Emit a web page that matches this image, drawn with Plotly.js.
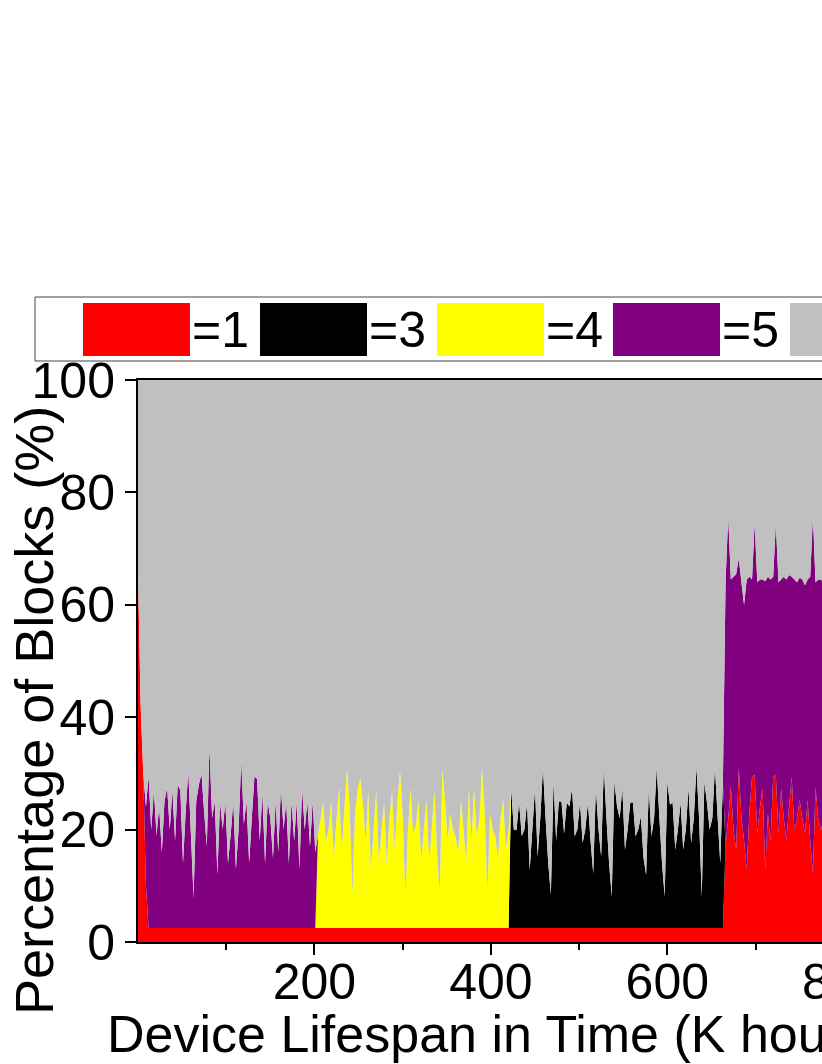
<!DOCTYPE html>
<html>
<head>
<meta charset="utf-8">
<script src="https://cdn.plot.ly/plotly-3.0.1.min.js"></script>
<style>
  html, body { margin: 0; padding: 0; overflow: hidden; background: #fff; }
  #chart { width: 1000px; height: 1064px; }
</style>
</head>
<body>
<div id="chart"></div>
<script>
// Share of blocks per level over device lifespan, stacked up to 100%
// values read every 3 K hours

var step = 3;
var xEnd = 777;

var levelNames = ["=1", "=3", "=4", "=5", "Other"];
var levelColors = ["#ff0000", "#000000", "#ffff00", "#800080", "#c0c0c0"];

// =1 : starts high, drops to a thin band, then jumps at ~666
var redHead = [66, 42, 30, 10];          // x 0..9
var redBase = 2.5;                       // x 12..663
var redLate = [17, 22, 27.6, 20, 16.4, 31, 22.3, 18, 12.8, 22.9,
               29.4, 29.7, 19.3, 24, 27.3, 12.8, 22.9, 18, 29.4, 29.7,
               19.3, 27.3, 22, 18.1, 24, 29.4, 19.9, 22, 25.3, 22,
               19.3, 25.3, 18, 12.2, 27.6, 22, 19.9, 22];   // x 666..777

// =5 : first phase (x 0..201)
var purpleEarly = [0, 0, 0, 14, 27, 17.5, 24.5, 16.5, 21.5, 13.5,
                   22.5, 25, 17.5, 24.5, 15.5, 25.5, 24.5, 11.5, 20.5, 28,
                   16.5, 5.5, 22.5, 25.5, 27.5, 20.5, 14.5, 32.3, 19.5, 22.5,
                   9.5, 22.5, 17.5, 22.5, 11.5, 16.5, 22.5, 10.5, 17.5, 29.9,
                   18.5, 22.5, 11.5, 19.5, 27, 26.5, 15.5, 24, 11.5, 22.5,
                   19.5, 12.5, 22.5, 13.5, 25, 17.5, 22.5, 11.5, 22.5, 15.5,
                   22.5, 10.5, 25, 17.5, 22.5, 14.5, 22.5, 13.5];

// =4 : x 204..420
var yellowMid = [16.5, 19.5, 22.5, 15.5, 17.5, 22.5, 12.5, 19.5, 24.9, 14,
                 21.5, 28.4, 21.5, 6.1, 20.5, 24.5, 26.8, 22, 15.5, 24.5,
                 10.5, 17.5, 24.7, 12.1, 17.5, 22.3, 11.2, 19.5, 24.5, 13.9,
                 22.5, 28, 20.3, 6.1, 17.5, 24.9, 16.8, 18.5, 22.8, 12.1,
                 17.5, 22.8, 12.1, 17.5, 24.7, 13.5, 6.5, 28.4, 22.8, 15.5,
                 20.4, 17.5, 16.3, 13.5, 22.8, 17.5, 12.1, 24.7, 15.5, 24.9,
                 16.3, 19.5, 28.4, 21, 6.1, 20.3, 17.5, 16.3, 12.5, 19.5,
                 22.8, 13.9, 17.5];

// =3 : x 423..663
var blackMid = [24.9, 17.5, 17.4, 22.3, 16.3, 17.5, 22.3, 10.3, 17.5, 24.9,
                12.7, 19.5, 28.6, 19.5, 11.5, 5.9, 26, 15.6, 22.5, 22.5,
                16.8, 22.3, 21.6, 24.9, 16.3, 17.5, 22.3, 15.1, 17.5, 22.3,
                15.5, 9.7, 24.9, 17.5, 12.7, 28.6, 19.5, 11.5, 5.6, 26,
                21.6, 19.5, 24.9, 13.9, 17.5, 22.3, 22.3, 16.3, 17.5, 19.8,
                12.5, 9.4, 24.9, 16.3, 19.5, 28.6, 19.5, 11.5, 5.6, 26,
                21.9, 22.3, 13.9, 17.5, 22.3, 13.9, 17.5, 24.9, 15.1, 19.5,
                28.6, 19.5, 5.6, 26, 22.2, 17.5, 19.5, 28.6, 19.8, 11.5,
                26];

// top edge of the =5 band in the last phase (x 666..777)
var purpleTopLate = [64, 75.7, 64.5, 65, 65.5, 68.3, 64, 60, 64.5, 65,
                     64.5, 74.5, 64, 64.5, 64.5, 64.2, 65, 64.5, 65, 74.5,
                     64, 64.5, 65, 64.5, 65.3, 65, 64.5, 64, 64.8, 64.5,
                     63.5, 64.5, 65, 75.8, 64, 64.5, 64.5, 64];

var xTicks = [200, 400, 600, 800];
var xMinorTicks = [100, 300, 500, 700];
var yTicks = [0, 20, 40, 60, 80, 100];

// build full series on the common grid
var xs = [], red = [], black = [], yellow = [], purple = [], gray = [];
for (var i = 0; i <= xEnd / step; i++) {
    var x = i * step;
    var r, b = 0, yl = 0, p = 0;
    if (x < 12) r = redHead[i];
    else if (x < 666) r = redBase;
    else r = redLate[(x - 666) / step];

    if (x <= 201) p = purpleEarly[i];
    else if (x >= 204 && x <= 420) yl = yellowMid[(x - 204) / step];
    else if (x >= 423 && x <= 663) b = blackMid[(x - 423) / step];
    else if (x >= 666) p = purpleTopLate[(x - 666) / step] - r;

    xs.push(x);
    red.push(r); black.push(b); yellow.push(yl); purple.push(p);
    gray.push(100 - r - b - yl - p);
}

var series = [red, black, yellow, purple, gray];
var data = series.map(function (s, k) {
    return {
        x: xs, y: s, type: "scatter", mode: "none",
        stackgroup: "one", fillcolor: levelColors[k],
        name: levelNames[k], showlegend: false, hoverinfo: "skip"
    };
});

// plot area in page pixels, used to place the hand-made legend
var L = 138, T = 380, W = 719, H = 562;
function px(v) { return (v - L) / W; }
function py(v) { return (T + H - v) / H; }

var fontFam = "Liberation Sans, Arial, sans-serif";
var shapes = [{
    type: "rect", xref: "paper", yref: "paper",
    x0: px(35), x1: px(985), y0: py(361), y1: py(297),
    line: {color: "#444", width: 1}, fillcolor: "#fff"
}];
var annotations = [];
var swatchX = [83, 260, 437, 613, 790];
levelNames.forEach(function (nm, k) {
    shapes.push({
        type: "rect", xref: "paper", yref: "paper",
        x0: px(swatchX[k]), x1: px(swatchX[k] + 107), y0: py(356), y1: py(303),
        line: {width: 0}, fillcolor: levelColors[k]
    });
    annotations.push({
        xref: "paper", yref: "paper", x: px(swatchX[k] + 107), y: py(330),
        xanchor: "left", yanchor: "middle", text: nm, showarrow: false,
        font: {family: fontFam, size: 50, color: "#000"}
    });
});

annotations.push({
    xref: "paper", yref: "paper", x: px(497), y: py(1034),
    xanchor: "center", yanchor: "middle", showarrow: false,
    text: "Device Lifespan in Time (K hours)",
    font: {family: fontFam, size: 52, color: "#000"}
});
annotations.push({
    xref: "paper", yref: "paper", x: px(34), y: py(711),
    xanchor: "center", yanchor: "middle", showarrow: false, textangle: -90,
    text: "Percentage of Blocks (%)",
    font: {family: fontFam, size: 54, color: "#000"}
});

var layout = {
    width: 1000, height: 1064,
    margin: {l: L, r: 1000 - L - W, t: T, b: 1064 - T - H, pad: 0},
    paper_bgcolor: "#fff", plot_bgcolor: "#fff",
    font: {family: fontFam, size: 50, color: "#000"},
    showlegend: false,
    xaxis: {
        range: [0, 815], tickvals: xTicks, ticks: "outside", ticklen: 11,
        tickwidth: 2, tickcolor: "#000", showline: true, linewidth: 2,
        linecolor: "#000", mirror: true, showgrid: false, zeroline: false,
        tickfont: {size: 50}, ticklabelstandoff: -16,
        minor: {tickvals: xMinorTicks, ticks: "outside", ticklen: 6, tickwidth: 2, tickcolor: "#000"}
    },
    yaxis: {
        range: [0, 100], tickvals: yTicks, ticks: "outside", ticklen: 11,
        tickwidth: 2, tickcolor: "#000", showline: true, linewidth: 2,
        linecolor: "#000", mirror: true, showgrid: false, zeroline: false,
        tickfont: {size: 50}
    },
    shapes: shapes,
    annotations: annotations
};

Plotly.newPlot("chart", data, layout, {staticPlot: true, displayModeBar: false});
</script>
</body>
</html>
